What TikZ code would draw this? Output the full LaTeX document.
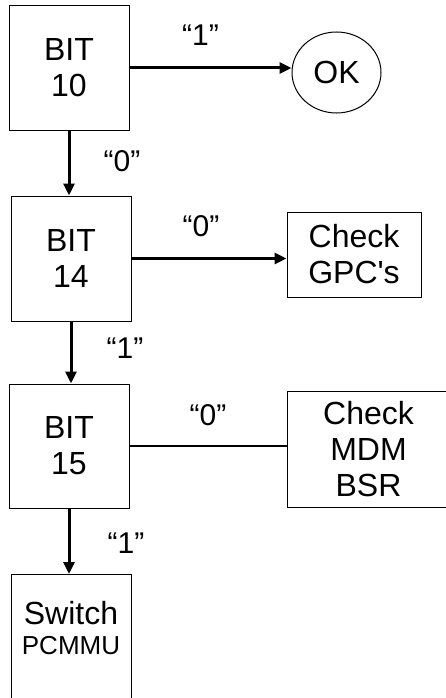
\documentclass[tikz,border=0pt]{standalone}
\usepackage{fontspec}
\setmainfont{Liberation Sans}
\usetikzlibrary{arrows.meta,shapes.geometric,positioning}

\begin{document}
\begin{tikzpicture}[x=1pt, y=-1pt, >={Triangle[length=12pt,width=11pt]},
    box/.style={draw, line width=1pt, align=center, font=\fontsize{32}{36}\selectfont},
    link/.style={->, line width=3pt},
    lbl/.style={font=\fontsize{30}{32}\selectfont, inner sep=0pt}]
    \clip (0,0) rectangle (446,698);
    % Decision boxes
    \node[box, minimum width=120pt, minimum height=124pt] (bit10) at (69,68) {BIT\\10};
    \node[box, minimum width=120pt, minimum height=125pt] (bit14) at (71,258.5) {BIT\\14};
    \node[box, minimum width=120pt, minimum height=124pt] (bit15) at (69,446) {BIT\\15};

    % Outcomes
    \node[box, ellipse, inner sep=0pt, minimum width=89pt, minimum height=81pt] (ok) at (336.5,72.5) {OK};
    \node[box, minimum width=134pt, minimum height=85pt] (gpc) at (354,254.5) {Check\\GPC\textquotesingle s};
    \node[box, minimum width=163pt, minimum height=116pt] (mdm) at (368.5,449) {Check\\MDM\\BSR};
    \node[box, anchor=north, minimum width=120pt, minimum height=130pt] (pcmmu) at (71,574) {};
    \node[align=center, font=\fontsize{32}{32}\selectfont, inner sep=0pt] (pcmmutxt) at (71,628)
        {Switch\\[-2pt]{\fontsize{26}{26}\selectfont PCMMU}};

    % Connectors
    \draw[link] (bit10.east) -- (bit10.east -| ok.west)
        node[lbl, midway, xshift=-10pt, yshift=33pt] {“1”};
    \draw[link] (bit10.south) -- (bit10.south |- bit14.north)
        node[lbl, midway, xshift=53pt, yshift=2pt] {“0”};
    \draw[link] (bit14.east) -- (bit14.east -| gpc.west)
        node[lbl, midway, xshift=-8pt, yshift=32pt] {“0”};
    \draw[link] (bit14.south) -- (bit14.south |- bit15.north)
        node[lbl, midway, xshift=54pt, yshift=4pt] {“1”};
    \draw[line width=1.8pt] (bit15.east) -- (bit15.east -| mdm.west)
        node[lbl, midway, yshift=31pt] {“0”};
    \draw[link] (bit15.south) -- (bit15.south |- pcmmu.north)
        node[lbl, midway, xshift=57pt, yshift=-2pt] {“1”};
\end{tikzpicture}
\end{document}
